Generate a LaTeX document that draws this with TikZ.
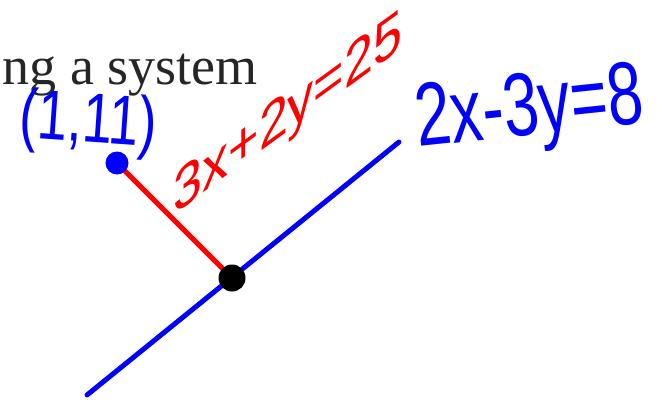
\documentclass[tikz,border=0pt]{standalone}
\usepackage{fontspec}
\setmainfont{Liberation Serif}
\newfontfamily\handfont{Liberation Sans}
\usetikzlibrary{positioning,backgrounds}

\definecolor{inkblue}{RGB}{0,0,255}
\definecolor{inkred}{RGB}{255,0,0}

\begin{document}
\begin{tikzpicture}[
    x=1pt, y=-1pt,
    dot/.style={circle, fill, inner sep=0pt, minimum size=#1},
    stroke/.style={line width=5pt, line cap=round},
    hand/.style={inner sep=0pt, font=\handfont\fontsize{#1}{#1}\selectfont}
]
    \useasboundingbox (0,0) rectangle (658,401);

    \node[anchor=base east, inner sep=0pt, text=black!85,
          font=\fontsize{54}{60}\selectfont] (title) at (258,85) {ng a system};

    \node[dot=23pt, inkblue] (pt) at (117,163) {};
    \node[dot=27pt, black] (sol) at (232,278) {};
    \coordinate (lo) at (87,395);
    \coordinate (hi) at (399,142);

    \begin{scope}[on background layer]
        \draw[stroke, inkblue] (lo) -- (hi);
        \draw[stroke, inkred] (pt.center) -- (sol.center);
    \end{scope}

    \node[hand=54, text=inkblue, rotate=-4, yscale=1.3] (ptlabel) at (88,124) {(1,11)};
    \node[hand=52, text=inkred, yslant=0.73, yscale=1.15] (redlabel) at (288,117) {3x+2y=25};
    \node[hand=64, text=inkblue, rotate=6, yscale=1.4] (bluelabel) at (530,113) {2x-3y=8};
\end{tikzpicture}
\end{document}
